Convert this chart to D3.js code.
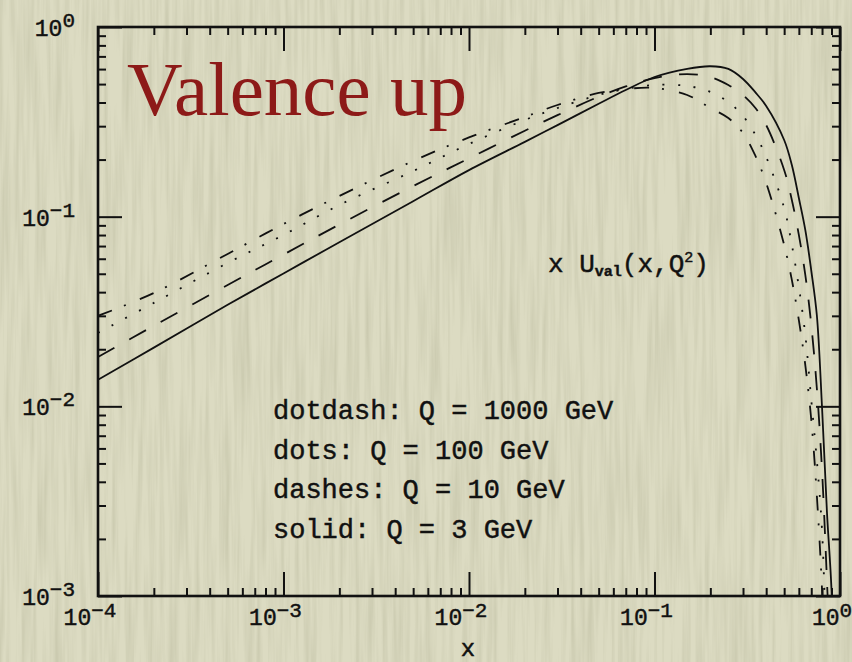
<!DOCTYPE html>
<html>
<head>
<meta charset="utf-8">
<script src="https://cdn.jsdelivr.net/npm/d3@7"></script>
<style>
  html, body { margin: 0; padding: 0; background: #d8d7bd; }
  svg { display: block; }
</style>
</head>
<body>
<svg id="chart" width="852" height="662"></svg>
<script>
// Momentum fraction grid and x*u_valence(x, Q^2) at four scales
const xValues = [1e-4, 2e-4, 5e-4, 1e-3, 2e-3, 5e-3, 0.01, 0.02, 0.03, 0.05, 0.07, 0.1, 0.15, 0.2, 0.25, 0.3, 0.35, 0.4, 0.5, 0.55, 0.6, 0.65, 0.7, 0.75, 0.8, 0.85, 0.9, 0.95];
const uvQ3    = [0.0138, 0.0204, 0.0343, 0.0502, 0.0733, 0.1206, 0.176, 0.248, 0.304, 0.394, 0.4656, 0.545, 0.602, 0.621, 0.601, 0.532, 0.452, 0.3835, 0.2537, 0.1873, 0.1255, 0.0851, 0.052, 0.0303, 0.0099, 0.0028, 0.00108, 0.0002];
const uvQ10   = [0.0182, 0.0266, 0.0436, 0.0631, 0.0909, 0.145, 0.203, 0.284, 0.343, 0.429, 0.4858, 0.538, 0.565, 0.545, 0.4945, 0.438, 0.374, 0.304, 0.1763, 0.1225, 0.0801, 0.0493, 0.0269, 0.0125, 0.0046, 0.00122, 0.0003, 0.00005];
const uvQ100  = [0.0244, 0.0351, 0.057, 0.0801, 0.1152, 0.174, 0.2416, 0.3235, 0.374, 0.438, 0.471, 0.4945, 0.489, 0.4544, 0.4024, 0.3396, 0.27, 0.2064, 0.111, 0.071, 0.0426, 0.0238, 0.0108, 0.0052, 0.00223, 0.0004, 0.0001, 0.00002];
const uvQ1000 = [0.030, 0.0396, 0.0636, 0.0915, 0.1286, 0.1966, 0.2616, 0.3354, 0.388, 0.449, 0.471, 0.477, 0.438, 0.374, 0.331, 0.276, 0.209, 0.1506, 0.0709, 0.0464, 0.0285, 0.0165, 0.0085, 0.0034, 0.00108, 0.0002, 0.00005, 0.00001];

const seriesNames = ["Q = 3 GeV", "Q = 10 GeV", "Q = 100 GeV", "Q = 1000 GeV"];
const xTickExponents = [-4, -3, -2, -1, 0];
const yTickExponents = [-3, -2, -1, 0];
const legendLines = ["dotdash: Q = 1000 GeV", "dots: Q = 100 GeV", "dashes: Q = 10 GeV", "solid: Q = 3 GeV"];
const titleText = "Valence up";
const xLabel = "x";

const svg = d3.select("#chart");
const W = 852, H = 662;
const pLeft = 98, pRight = 840, pTop = 27, pBottom = 596;

const x = d3.scaleLog().domain([1e-4, 1]).range([pLeft, pRight]);
const y = d3.scaleLog().domain([1e-3, 1]).range([pBottom, pTop]);

// paper background with fine vertical grain
const defs = svg.append("defs");
const paper = defs.append("filter").attr("id", "grain")
  .attr("x", 0).attr("y", 0).attr("width", "100%").attr("height", "100%");
paper.append("feTurbulence").attr("type", "fractalNoise")
  .attr("baseFrequency", "0.2 0.007").attr("numOctaves", 3).attr("seed", 11);
paper.append("feColorMatrix").attr("type", "matrix")
  .attr("values", "0 0 0 0 0.42  0 0 0 0 0.42  0 0 0 0 0.28  0.7 0 0 0 -0.26");
svg.append("rect").attr("width", W).attr("height", H).attr("fill", "#dcdbc2");
svg.append("rect").attr("width", W).attr("height", H).attr("filter", "url(#grain)");

defs.append("clipPath").attr("id", "plotArea")
  .append("rect").attr("x", pLeft).attr("y", pTop).attr("width", pRight - pLeft).attr("height", pBottom - pTop);

const ink = "#111";
const monoFont = "'Liberation Mono', 'Courier New', monospace";

// Ticks on all four sides, pointing inward
const decadeX = xTickExponents.map(e => Math.pow(10, e));
const decadeY = yTickExponents.map(e => Math.pow(10, e));
const isDecade = v => Math.abs(Math.log10(v) - Math.round(Math.log10(v))) < 1e-9;
const minorX = x.ticks().filter(v => !isDecade(v));
const minorY = y.ticks().filter(v => !isDecade(v));
const majorLen = 24, minorLen = 8;

function styleAxis(g) {
  g.select(".domain").remove();
  g.selectAll(".tick line").attr("stroke", ink).attr("stroke-width", 2);
  g.selectAll(".tick text").remove();
}
const axes = [
  [() => d3.axisBottom(x), `translate(0,${pBottom})`, decadeX, minorX],
  [() => d3.axisTop(x), `translate(0,${pTop})`, decadeX, minorX],
  [() => d3.axisLeft(y), `translate(${pLeft},0)`, decadeY, minorY],
  [() => d3.axisRight(y), `translate(${pRight},0)`, decadeY, minorY]
];
axes.forEach(([makeAxis, tr, major, minor]) => {
  svg.append("g").attr("transform", tr)
    .call(makeAxis().tickValues(major).tickSize(-majorLen).tickFormat(""))
    .call(styleAxis);
  svg.append("g").attr("transform", tr)
    .call(makeAxis().tickValues(minor).tickSize(-minorLen).tickFormat(""))
    .call(styleAxis);
});

// frame
svg.append("rect").attr("x", pLeft).attr("y", pTop)
  .attr("width", pRight - pLeft).attr("height", pBottom - pTop)
  .attr("fill", "none").attr("stroke", ink).attr("stroke-width", 2.6);

// tick labels 10^n
function powerLabel(sel, exp, baseSize, supSize, rise) {
  sel.append("tspan").text("10").attr("font-size", baseSize);
  sel.append("tspan").text(exp < 0 ? "\u2212" + (-exp) : String(exp))
    .attr("font-size", supSize).attr("dy", -rise);
}
const textStyle = s => s.attr("font-family", monoFont).attr("fill", ink)
  .attr("stroke", ink).attr("stroke-width", 0.45);

xTickExponents.forEach(e => {
  const t = svg.append("text").attr("x", x(Math.pow(10, e)) - 8).attr("y", pBottom + 29)
    .attr("text-anchor", "middle").call(textStyle);
  powerLabel(t, e, 23, 21, 8);
});
yTickExponents.forEach(e => {
  const t = svg.append("text").attr("x", 75).attr("y", y(Math.pow(10, e)) + 9)
    .attr("text-anchor", "end").call(textStyle);
  powerLabel(t, e, 23, 21, 9);
});

svg.append("text").attr("x", 468).attr("y", 656).attr("text-anchor", "middle")
  .attr("font-size", 24).call(textStyle).text(xLabel);

// curves
const curveData = [uvQ3, uvQ10, uvQ100, uvQ1000];
const dashes = [null, "19,17", "2,13.5", "15,13,2,15"];
const line = d3.line().x(d => x(d[0])).y(d => y(d[1])).curve(d3.curveCatmullRom.alpha(0.5));
const curves = svg.append("g").attr("clip-path", "url(#plotArea)");
curveData.forEach((vals, i) => {
  curves.append("path")
    .datum(xValues.map((xv, j) => [xv, vals[j]]))
    .attr("fill", "none").attr("stroke", ink).attr("stroke-width", 1.8)
    .attr("stroke-dasharray", dashes[i])
    .attr("aria-label", seriesNames[i])
    .attr("d", line);
});

// title
svg.append("text").attr("x", 127).attr("y", 115)
  .attr("font-family", "'Liberation Serif', 'Times New Roman', serif")
  .attr("font-size", 77).attr("fill", "#8d1a18").text(titleText);

// function label x U_val(x,Q^2)
const fl = svg.append("text").attr("x", 548).attr("y", 272).attr("font-size", 26).call(textStyle);
fl.append("tspan").text("x U");
fl.append("tspan").text("val").attr("font-size", 15).attr("font-weight", "bold").attr("dy", 4);
fl.append("tspan").text("(x,Q").attr("dy", -4);
fl.append("tspan").text("2").attr("font-size", 15).attr("dy", -10);
fl.append("tspan").text(")").attr("dy", 10);

// legend text
legendLines.forEach((s, i) => {
  svg.append("text").attr("x", 273).attr("y", 419 + i * 39.5)
    .attr("font-size", 27).call(textStyle).text(s);
});
</script>
</body>
</html>
